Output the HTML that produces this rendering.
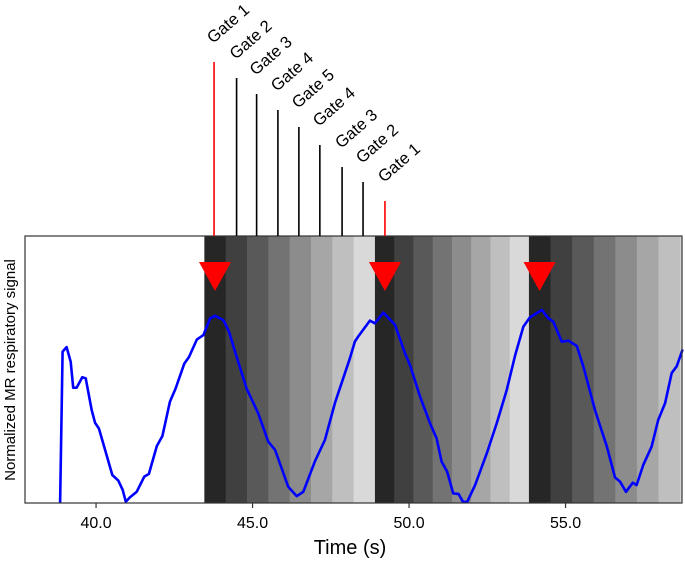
<!DOCTYPE html>
<html><head><meta charset="utf-8"><style>
html,body{margin:0;padding:0;background:#fff;}
svg{display:block;font-family:"Liberation Sans",sans-serif;}
</style></head><body>
<svg id="chart" width="685" height="562" viewBox="0 0 685 562" xmlns="http://www.w3.org/2000/svg"></svg>
<script>
const timeValues=[38.85,38.93,39.06,39.19,39.27,39.38,39.56,39.67,39.86,39.97,40.09,40.29,40.52,40.71,40.85,40.95,41.08,41.30,41.54,41.69,41.94,42.12,42.36,42.54,42.82,42.97,43.22,43.43,43.64,43.80,44.07,44.25,44.44,44.81,45.18,45.50,45.72,46.14,46.41,46.62,46.99,47.31,47.63,48.11,48.27,48.38,48.75,48.91,49.18,49.55,49.87,50.03,50.35,50.67,50.88,51.04,51.22,51.41,51.58,51.73,51.86,52.11,52.48,52.80,53.12,53.39,53.65,53.86,54.24,54.45,54.61,54.88,55.09,55.36,55.57,55.94,56.32,56.58,56.74,56.93,57.15,57.27,57.48,57.75,57.96,58.18,58.39,58.55,58.74];
const signalValues=[0,0.567,0.584,0.529,0.432,0.432,0.471,0.467,0.348,0.300,0.279,0.199,0.105,0.084,0.049,0.005,0.021,0.042,0.099,0.109,0.213,0.251,0.379,0.429,0.522,0.547,0.612,0.629,0.691,0.701,0.685,0.641,0.567,0.429,0.336,0.230,0.199,0.061,0.026,0.042,0.155,0.236,0.374,0.542,0.605,0.624,0.683,0.673,0.713,0.667,0.561,0.517,0.399,0.299,0.242,0.155,0.117,0.036,0.034,0.003,0.005,0.067,0.185,0.298,0.423,0.554,0.660,0.695,0.723,0.692,0.679,0.604,0.608,0.588,0.511,0.348,0.211,0.096,0.080,0.042,0.076,0.067,0.142,0.211,0.311,0.374,0.487,0.512,0.575];
const cycleStarts=[43.46,48.91,53.83];
const cycleDurations=[5.45,4.92,5.52];
const bandColors=["#262626","#404040","#595959","#737373","#8c8c8c","#a6a6a6","#bfbfbf","#d9d9d9"];
const arrowTimes=[43.80,49.23,54.17];
const gateTimes=[43.77,44.49,45.13,45.81,46.48,47.15,47.86,48.53,49.23];
const gateLabels=["Gate 1","Gate 2","Gate 3","Gate 4","Gate 5","Gate 4","Gate 3","Gate 2","Gate 1"];
const gateHeights=[174,158,142,126,109,91,69,54,35];
const xTicks=[40,45,50,55];
const xTickLabels=["40.0","45.0","50.0","55.0"];

const L=25,R=682,T=236,B=503,tMin=37.73,tMax=tMin+(R-L)/31.3;
const sx=t=>L+(t-tMin)/(tMax-tMin)*(R-L);
const sy=v=>B-v*(B-T);
const svg=document.getElementById('chart');
const NS="http://www.w3.org/2000/svg";
function mk(tag,attrs,parent){const e=document.createElementNS(NS,tag);for(const k in attrs)e.setAttribute(k,attrs[k]);(parent||svg).appendChild(e);return e;}

const bands=mk('g',{});


cycleStarts.forEach((s,c)=>{
  const w=cycleDurations[c]/8;
  bandColors.forEach((col,i)=>{
    const a=s+i*w,b=Math.min(s+(i+1)*w,tMax);
    if(a>=tMax)return;
    const r=mk('rect',{x:sx(a),y:T,width:sx(b)-sx(a)+0.5,height:B-T,fill:col},bands);
    
    
  });
});

let d='';
timeValues.forEach((t,i)=>{d+=(i?'L':'M')+sx(t).toFixed(1)+','+sy(signalValues[i]).toFixed(1);});
const line=mk('path',{d:d,fill:'none',stroke:'#0000ff','stroke-width':2.6,'stroke-linejoin':'round'});



arrowTimes.forEach(t=>{
  const x=sx(t);
  const a=mk('polygon',{points:`${x-16},262 ${x+16},262 ${x},291`,fill:'#ff0000'});
  
  
});

const frame=mk('rect',{x:L,y:T,width:R-L,height:B-T,fill:'none',stroke:'#333','stroke-width':1.2});



gateTimes.forEach((t,i)=>{
  const x=sx(t),top=T-gateHeights[i];
  const red=(i===0||i===gateTimes.length-1);
  const ln=mk('line',{x1:x,y1:T,x2:x,y2:top,stroke:red?'#ff0000':'#000','stroke-width':1.6});
  
  
  const tx=mk('text',{x:x-1,y:top-18,'font-size':16.5,fill:'#000',transform:`rotate(-41 ${x-1} ${top-18})`});
  tx.textContent=gateLabels[i];
  
  
});

xTicks.forEach((t,i)=>{
  const x=sx(t);
  const tk=mk('line',{x1:x,y1:B,x2:x,y2:B+5,stroke:'#333','stroke-width':1.2});
  
  
  const lb=mk('text',{x:x,y:B+25,'font-size':16,'text-anchor':'middle',fill:'#000'});
  lb.textContent=xTickLabels[i];
  
  
});

const xt=mk('text',{x:350,y:554,'font-size':20,'text-anchor':'middle',fill:'#000'});
xt.textContent='Time (s)';


const yt=mk('text',{x:0,y:0,'font-size':15,'text-anchor':'middle',fill:'#000',transform:'translate(15,370) rotate(-90)'});
yt.textContent='Normalized MR respiratory signal';


</script>
</body></html>
